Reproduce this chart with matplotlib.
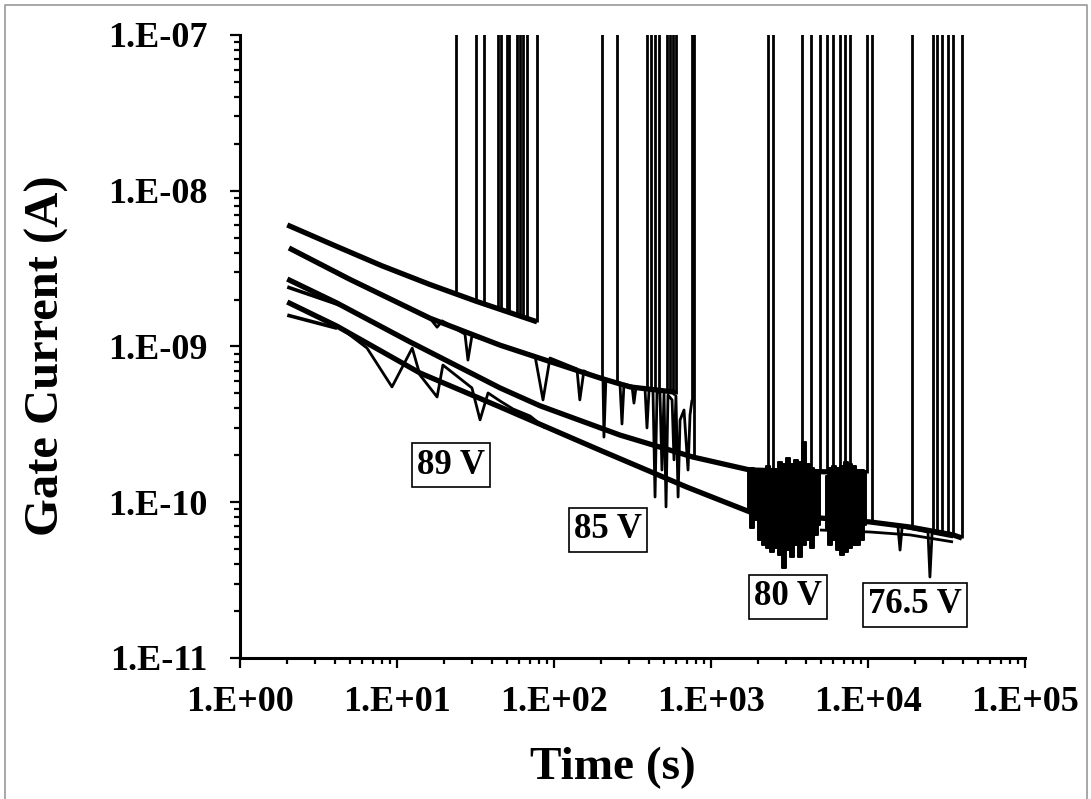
import numpy as np
import matplotlib
matplotlib.use('Agg')
import matplotlib.pyplot as plt
from matplotlib.lines import Line2D
from matplotlib.ticker import LogLocator, FuncFormatter, NullFormatter

plt.rcParams['font.family'] = 'Liberation Serif'
plt.rcParams['font.weight'] = 'bold'

# ---- 89 V ----
t_89 = [2.0, 4.0, 8.0, 16.2, 32.0, 78.0]
i_89 = [6.03e-9, 4.45e-9, 3.3e-9, 2.5e-9, 1.95e-9, 1.44e-9]
bd_t_89 = [23.8, 31.9, 35.8, 44.0, 45.9, 50.2, 51.6, 58.1, 60.7, 63.5, 67.3, 78.0]
bd_i_89 = [2.19e-9, 1.96e-9, 1.89e-9, 1.79e-9, 1.76e-9, 1.71e-9, 1.69e-9,
           1.62e-9, 1.59e-9, 1.56e-9, 1.52e-9, 1.44e-9]

# ---- 85 V ----
t_85 = [2.05, 5.0, 16.2, 45.3, 110, 196, 305, 573, 598]
i_85 = [4.29e-9, 2.70e-9, 1.52e-9, 1.02e-9, 7.6e-10, 6.28e-10, 5.5e-10, 5.11e-10, 4.95e-10]
bd_t_85 = [202, 252, 391, 415, 440, 466, 525, 548, 573, 598, 757, 780]
bd_i_85 = [6.2e-10, 5.83e-10, 5.3e-10, 5.24e-10, 5.17e-10, 5.17e-10, 5.11e-10,
           5.05e-10, 5.05e-10, 4.93e-10, 4.54e-10, 1.95e-10]
# one noisy 85 V device
nz_t_85 = [16.2, 18.0, 19.4, 27.1, 28.3, 30.0, 75.7, 85.1, 94.3, 140, 146, 155, 169.5,
           205, 208, 214, 263, 271, 279, 314, 323, 333, 380, 391, 403, 427, 440, 453,
           473, 487, 502, 517, 532, 565, 581, 598, 617, 635, 673, 714, 735, 757]
nz_i_85 = [1.52e-9, 1.33e-9, 1.46e-9, 1.20e-9, 8.18e-10, 1.17e-9, 8.69e-10, 4.54e-10,
           8.43e-10, 7.18e-10, 4.54e-10, 6.97e-10, 6.65e-10, 6.28e-10, 2.62e-10, 6.10e-10,
           5.83e-10, 3.18e-10, 5.74e-10, 5.57e-10, 4.33e-10, 5.50e-10, 5.34e-10, 3.00e-10,
           5.26e-10, 5.17e-10, 1.08e-10, 5.11e-10, 5.03e-10, 1.61e-10, 4.95e-10, 9.33e-11,
           4.88e-10, 4.54e-10, 1.87e-10, 4.81e-10, 1.08e-10, 3.37e-10, 3.91e-10, 1.61e-10,
           3.63e-10, 4.54e-10]

# ---- 80 V ----
t_80 = [2.0, 4.15, 12.1, 45.3, 81.5, 263, 768, 1771, 3690, 9860]
i_80 = [2.71e-9, 1.90e-9, 1.07e-9, 5.42e-10, 4.16e-10, 2.70e-10, 1.95e-10, 1.61e-10,
        1.58e-10, 1.55e-10]
t_80b = [2.0, 4.3]
i_80b = [2.41e-9, 1.85e-9]
bd_t_80 = [2307, 2483, 3802, 4335, 4944, 5480, 5985, 6637, 7144, 7678, 9857]
bd_i_80 = [1.6e-10, 1.6e-10, 1.58e-10, 1.58e-10, 1.57e-10, 1.57e-10, 1.56e-10,
           1.56e-10, 1.56e-10, 1.56e-10, 1.55e-10]
# fluctuation band before breakdown
band_t_a = [1721, 1825, 1935, 2051, 2176, 2307, 2447, 2594, 2750, 2916, 3092, 3279,
            3475, 3688, 3908, 4147, 4395, 4665, 4944]
band_hi_a = [1.61e-10, 1.66e-10, 1.56e-10, 1.61e-10, 1.52e-10, 1.71e-10, 1.56e-10,
             1.61e-10, 1.81e-10, 1.76e-10, 1.92e-10, 1.76e-10, 1.87e-10, 1.81e-10,
             2.44e-10, 1.76e-10, 1.66e-10, 1.56e-10, 1.52e-10]
band_lo_a = [8.7e-11, 6.8e-11, 7.69e-11, 5.73e-11, 5.32e-11, 5.08e-11, 4.79e-11,
             5.08e-11, 4.58e-11, 3.78e-11, 4.93e-11, 4.45e-11, 5.32e-11, 4.45e-11,
             5.32e-11, 5.73e-11, 5.08e-11, 6.17e-11, 7.14e-11]
band_t_b = [5400, 5728, 6068, 6442, 6823, 7244, 7674, 8147, 8630, 9162, 9705]
band_hi_b = [1.47e-10, 1.66e-10, 1.71e-10, 1.66e-10, 1.71e-10, 1.81e-10, 1.76e-10,
             1.71e-10, 1.61e-10, 1.61e-10, 1.52e-10]
band_lo_b = [6.63e-11, 5.32e-11, 5.73e-11, 4.93e-11, 4.58e-11, 4.79e-11, 5.08e-11,
             5.32e-11, 5.32e-11, 5.73e-11, 7.14e-11]

# ---- 76.5 V ----
t_765 = [2.0, 4.15, 14.0, 45.3, 196, 703, 1771, 4944, 10300, 18500, 34800, 39700]
i_765 = [1.93e-9, 1.35e-9, 6.76e-10, 4.09e-10, 2.16e-10, 1.25e-10, 8.66e-11,
         7.92e-11, 7.47e-11, 6.93e-11, 6.17e-11, 5.89e-11]
t_765b = [2.0, 4.15]
i_765b = [1.59e-9, 1.31e-9]
t_765c = [4944, 10300, 18500, 34800]
i_765c = [6.63e-11, 6.44e-11, 6.17e-11, 5.56e-11]
bd_t_765 = [10600, 19000, 25900, 27500, 29600, 32300, 34800, 39700]
bd_i_765 = [7.4e-11, 6.9e-11, 6.5e-11, 6.4e-11, 6.3e-11, 6.2e-11, 6.1e-11, 5.9e-11]
# noisy low-voltage devices
nz_t_low = [4.15, 6.44, 9.29, 12.5, 14.0, 18.0, 19.6, 30.0, 33.8, 38.0, 45.3, 54.8, 70.3, 87.7]
nz_i_low = [1.37e-9, 9.77e-10, 5.50e-10, 9.77e-10, 6.56e-10, 4.74e-10, 7.60e-10,
            5.42e-10, 3.38e-10, 5.03e-10, 4.47e-10, 3.97e-10, 3.58e-10, 3.00e-10]
nz_t_765 = [10300, 15500, 16000, 16500, 24100, 24800, 25600, 34800]
nz_i_765 = [7.47e-11, 7.05e-11, 4.93e-11, 6.93e-11, 6.44e-11, 3.31e-11, 6.35e-11, 5.98e-11]

# stress voltage labels
lbl_text = ['89 V', '85 V', '80 V', '76.5 V']
lbl_t = [22.1, 221, 3090, 19900]
lbl_i = [1.73e-10, 6.64e-11, 2.47e-11, 2.19e-11]

THICK = 3.8
THIN = 2.0
BD_TOP = 1e-6

fig = plt.figure(figsize=(10.91, 7.99), dpi=100)
ax = fig.add_axes([0.2200, 0.1765, 0.7195, 0.7797])


def base(t, i, lw=THICK):
    ax.plot(t, i, color='black', lw=lw, solid_capstyle='butt', solid_joinstyle='round')


def breakdowns(bt, bi):
    ax.vlines(bt, bi, BD_TOP, colors='black', lw=THIN)


base(t_89, i_89)
breakdowns(bd_t_89, bd_i_89)

base(t_85, i_85)
base(nz_t_85, nz_i_85, THIN)
breakdowns(bd_t_85, bd_i_85)

base(t_80, i_80)
base(t_80b, i_80b, 2.6)
breakdowns(bd_t_80, bd_i_80)
ax.fill_between(band_t_a, band_lo_a, band_hi_a, step='mid', color='black', lw=1.4)
ax.fill_between(band_t_b, band_lo_b, band_hi_b, step='mid', color='black', lw=1.4)

base(t_765, i_765)
base(t_765b, i_765b, 2.6)
base(t_765c, i_765c, THIN)
base(nz_t_low, nz_i_low, THIN)
base(nz_t_765, nz_i_765, THIN)
breakdowns(bd_t_765, bd_i_765)

for s, x, y in zip(lbl_text, lbl_t, lbl_i):
    ax.text(x, y, s, fontsize=25, fontweight='bold', ha='center', va='center',
            bbox=dict(boxstyle='square,pad=0.15', fc='white', ec='black', lw=1.2))

ax.set_xscale('log')
ax.set_yscale('log')
ax.set_xlim(1, 1e5)
ax.set_ylim(1e-11, 1e-7)

sci = FuncFormatter(lambda v, pos: f"1.E{int(round(np.log10(v))):+03d}")
for axis in (ax.xaxis, ax.yaxis):
    axis.set_major_locator(LogLocator(base=10, numticks=10))
    axis.set_minor_locator(LogLocator(base=10, subs=np.arange(2, 10), numticks=10))
    axis.set_major_formatter(sci)
    axis.set_minor_formatter(NullFormatter())

ax.tick_params(which='major', direction='out', length=7.5, width=1.6, labelsize=26)
ax.tick_params(which='minor', direction='out', length=4.5, width=1.6)
ax.tick_params(axis='x', which='major', pad=13)
ax.tick_params(axis='y', which='major', pad=16)

for side in ('top', 'right'):
    ax.spines[side].set_visible(False)
for side in ('left', 'bottom'):
    ax.spines[side].set_linewidth(2.2)

ax.set_xlabel('Time (s)', fontsize=34, fontweight='bold')
ax.xaxis.set_label_coords(0.475, -0.142)
ax.set_ylabel('Gate Current (A)', fontsize=35, fontweight='bold', va='center')
ax.yaxis.set_label_coords(-0.246, 0.486)

# thin grey frame round the figure (left, top, right edges)
fx0, fx1, fy1 = 4.5 / 1091, 1087 / 1091, 1 - 4.5 / 799
fig.add_artist(Line2D([fx0, fx0, fx1, fx1], [0, fy1, fy1, 0],
                      transform=fig.transFigure, color='#a0a0a0', lw=1.3))

fig.savefig('out.png', dpi=100)
